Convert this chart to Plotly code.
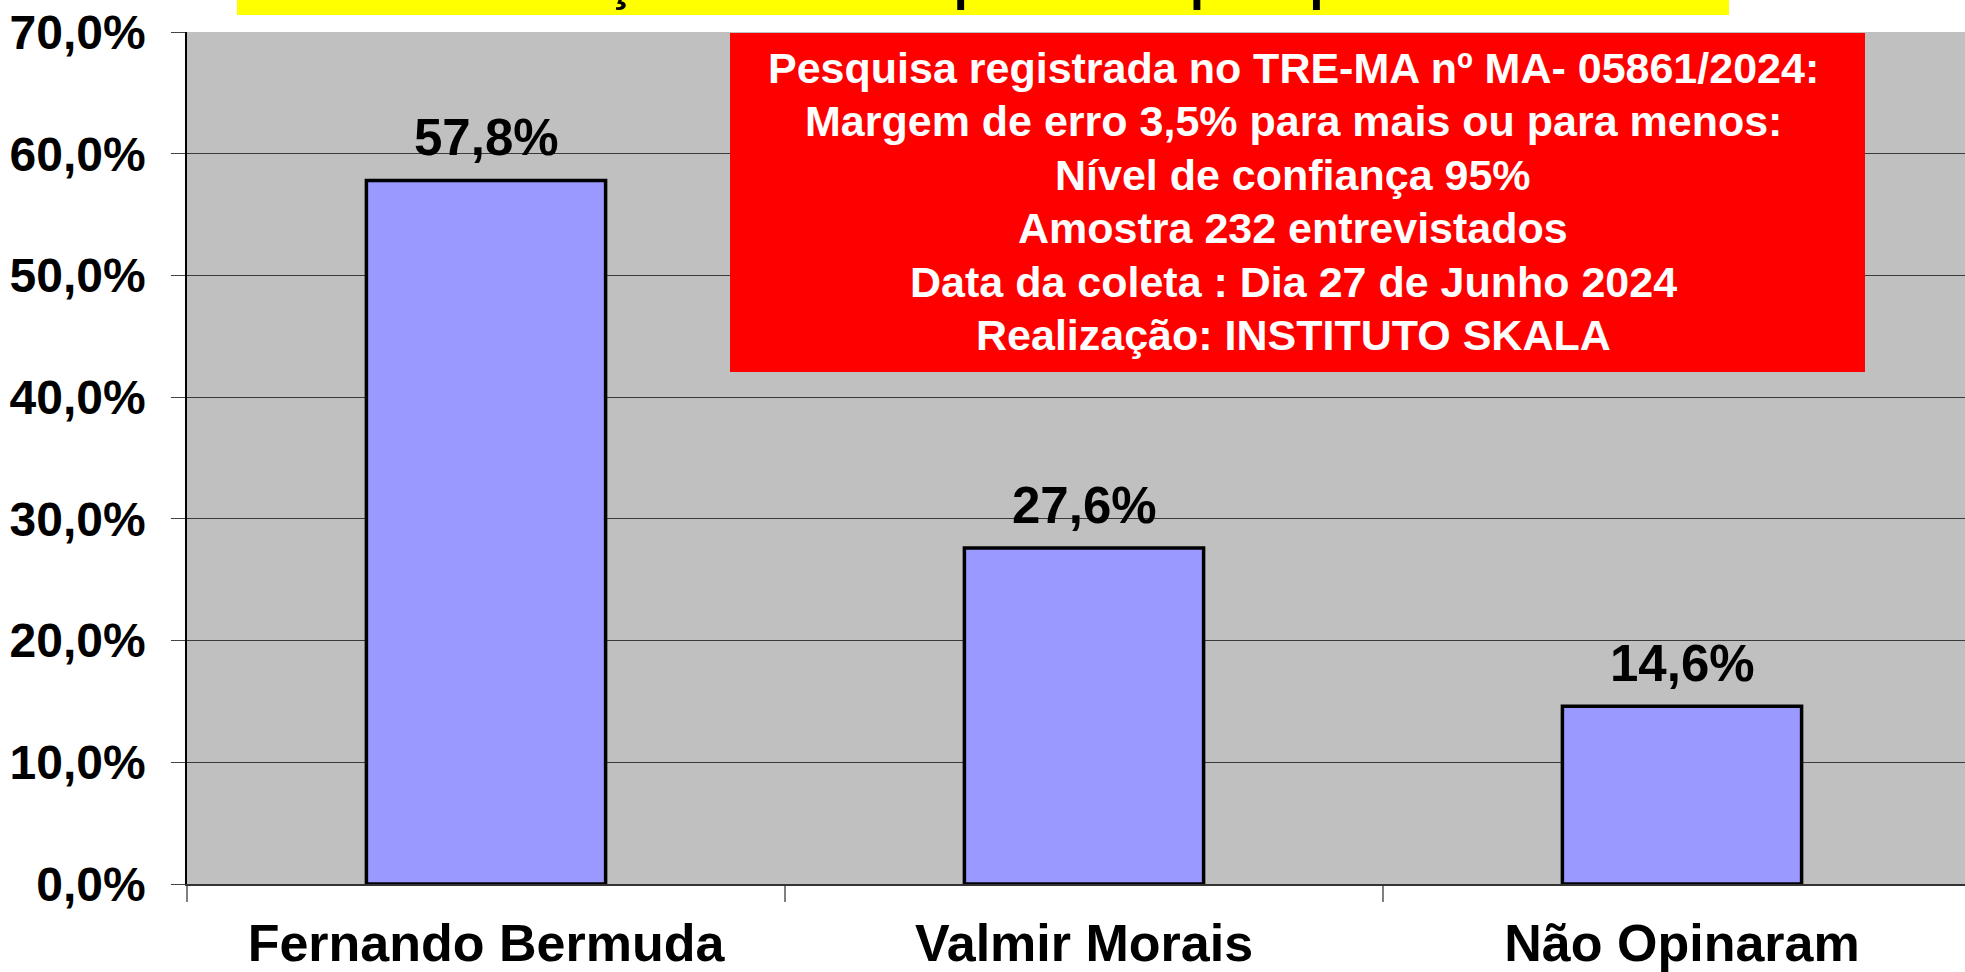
import plotly.graph_objects as go

categories = ["Fernando Bermuda", "Valmir Morais", "Não Opinaram"]
values = [0.578, 0.276, 0.146]
value_labels = ["57,8%", "27,6%", "14,6%"]
y_ticks = [0, 0.1, 0.2, 0.3, 0.4, 0.5, 0.6, 0.7]
title_text = "Intenção de voto espontânea para prefeito"
info_lines = [
    "Pesquisa registrada no TRE-MA nº MA- 05861/2024:",
    "Margem de erro 3,5% para mais ou para menos:",
    "Nível de confiança 95%",
    "Amostra 232 entrevistados",
    "Data da coleta : Dia 27 de Junho 2024",
    "Realização: INSTITUTO SKALA",
]

W, H = 1965, 972
L, R, T, B = 187, 0, 32, 88
PH = H - T - B
PW = W - L - R

FONT = "Liberation Sans, Arial, sans-serif"

def py(px):
    return 1 - (px - T) / PH

def pxp(px):
    return (px - L) / PW

fig = go.Figure()
fig.add_trace(go.Bar(
    x=categories, y=values, width=0.4,
    marker=dict(color="#9999FF", line=dict(color="black", width=3.5)),
    hoverinfo="skip", showlegend=False,
))

annotations = []
for c, v, lab in zip(categories, values, value_labels):
    annotations.append(dict(
        x=c, y=v, xref="x", yref="y", text=lab, showarrow=False,
        yanchor="middle", yshift=43,
        font=dict(family=FONT, size=51, color="black", weight="bold"),
    ))

# title (clipped at top of page)
annotations.append(dict(
    x=pxp(990), y=py(-16.5), xref="paper", yref="paper", text=title_text,
    showarrow=False, xanchor="center", yanchor="middle",
    font=dict(family=FONT, size=50, color="black", weight="bold"),
))

baselines = [83, 136.4, 189.8, 243.2, 296.6, 350]
for line, bl in zip(info_lines, baselines):
    annotations.append(dict(
        x=pxp(1293), y=py(bl - 15), xref="paper", yref="paper", text=line,
        showarrow=False, xanchor="center", yanchor="middle",
        font=dict(family=FONT, size=43, color="white", weight="bold"),
    ))

shapes = [
    dict(type="rect", xref="paper", yref="paper", x0=pxp(237), x1=pxp(1729),
         y0=py(15), y1=py(-40), fillcolor="#FFFF00", line=dict(width=0), layer="below"),
    dict(type="rect", xref="paper", yref="paper", x0=pxp(730), x1=pxp(1865),
         y0=py(372), y1=py(33), fillcolor="#FF0000", line=dict(width=0), layer="above"),
]

fig.update_layout(
    width=W, height=H,
    margin=dict(l=L, r=R, t=T, b=B, pad=0, autoexpand=False),
    paper_bgcolor="white", plot_bgcolor="#C0C0C0",
    separators=",.",
    annotations=annotations, shapes=shapes,
)
fig.update_xaxes(
    range=[-0.5, -0.5 + PW / 598], showgrid=False, automargin=False,
    tickson="boundaries", ticks="outside", ticklen=16, tickcolor="#808080", tickwidth=1.5,
    tickfont=dict(family=FONT, size=52, color="black", weight="bold"),
    ticklabelstandoff=13,
    showline=True, linecolor="#333333", linewidth=1.5,
)
fig.update_yaxes(
    range=[0, 0.7], tickvals=y_ticks, tickformat=".1%", automargin=False,
    showgrid=True, gridcolor="#3a3a3a", gridwidth=1.4,
    ticks="outside", ticklen=14, tickcolor="#444444",
    tickfont=dict(family=FONT, size=48, color="black", weight="bold"),
    ticklabelstandoff=16,
    showline=True, linecolor="black", linewidth=1.5,
    zeroline=False,
)

fig.write_html(
    "out.html",
    config={"displayModeBar": False},
    post_script="document.body.style.margin='0';document.body.style.overflow='hidden';",
)
